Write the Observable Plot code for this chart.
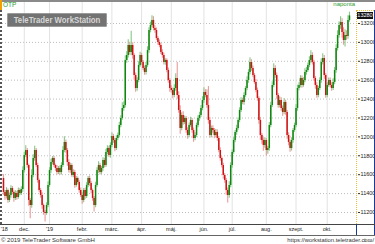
<!DOCTYPE html>
<html><head><meta charset="utf-8">
<script src="https://cdn.jsdelivr.net/npm/d3@7"></script>
<script src="https://cdn.jsdelivr.net/npm/@observablehq/plot@0.6"></script>
<style>
body{margin:0;background:#fff;}
#wrap{position:relative;width:375px;height:244px;overflow:hidden;font-family:"Liberation Sans",Arial,sans-serif;}
#wrap svg{position:absolute;left:0;top:0;}
.abs{position:absolute;white-space:nowrap;}
</style></head><body><div id="wrap"></div>
<script>
const symbol = "OTP";
const period = "naponta";
const copyright = "© 2019 TeleTrader Software GmbH";
const url = "https://workstation.teletrader.com/";
const watermark = "TeleTrader WorkStation";
const firstOpen = 11560;
const closes = [11412,11369,11433,11327,11380,11454,11412,11348,11401,11359,
 11433,11401,11443,11644,11803,11856,11697,11327,11274,11592,
 11771,11856,11697,11539,11433,11380,11274,11200,11190,11274,
 11486,11644,11729,11771,11697,11666,11623,11666,11623,11697,
 11856,11941,11856,11729,11644,11697,11592,11623,11486,11560,
 11517,11433,11380,11327,11433,11369,11486,11560,11507,11433,
 11348,11274,11486,11644,11697,11623,11666,11750,11697,11835,
 11877,11803,11909,12004,11962,11877,11983,12015,12121,12195,
 12301,12332,12808,12861,12967,12893,12967,12861,12650,12512,
 12597,12756,12861,12787,12724,12681,12756,12914,13126,13179,
 13232,13147,13126,13041,12999,12967,12893,12861,12787,12808,
 12703,12597,12512,12491,12438,12512,12618,12438,12279,12089,
 12226,12152,12195,12068,12015,12121,12174,12068,11983,12015,
 12121,12195,12226,12301,12385,12470,12438,12332,12174,12015,
 12089,12068,12015,12047,11983,11856,11771,11697,11592,11539,
 11433,11380,11486,11697,11835,11962,12047,12089,12174,12279,
 12385,12364,12438,12512,12597,12681,12787,12724,12650,12576,
 12491,12406,12174,12015,11962,11909,11962,11856,11877,12121,
 12332,12544,12724,12650,12438,12332,12385,12301,12258,12364,
 12258,12015,11941,11877,11962,12068,12121,12301,12512,12544,
 12618,12544,12597,12681,12703,12756,12808,12861,12787,12618,
 12544,12438,12512,12597,12787,12830,12650,12438,12544,12597,
 12544,12512,12576,12703,12935,13073,13179,13211,13105,13020,
 13073,13062,13232,13280];
const wickUp = [40,20,30,15,25,30,20,15,30,20,
 25,20,30,40,35,50,20,15,20,60,
 40,45,20,25,15,20,30,15,20,30,
 40,30,35,20,25,15,30,20,25,30,
 40,60,25,20,30,25,20,30,25,20,
 15,20,25,30,20,25,30,20,25,20,
 15,20,35,30,40,25,20,30,25,35,
 30,25,30,40,25,20,30,25,35,30,
 60,40,50,40,60,35,150,30,20,25,
 30,40,35,25,20,25,30,40,30,35,
 50,40,30,25,20,25,20,30,25,20,
 20,25,20,30,25,40,50,170,40,50,
 30,40,25,20,30,25,35,20,25,30,
 25,30,35,30,40,50,30,60,200,30,
 25,30,20,30,25,20,30,20,25,20,
 20,25,40,30,25,30,20,35,25,30,
 30,25,30,20,40,30,50,30,25,20,
 30,25,20,30,20,25,30,20,25,30,
 35,40,50,30,25,20,40,30,25,40,
 25,20,30,25,30,20,25,40,35,30,
 30,25,30,40,30,25,40,50,30,25,
 20,30,25,30,40,50,30,20,30,25,
 25,30,40,30,40,50,40,60,40,50,
 60,50,50,40];
const wickDown = [30,40,25,30,20,30,25,40,20,30,
 20,25,20,30,25,20,30,60,140,30,
 25,30,20,30,25,30,40,30,90,20,
 25,20,30,25,20,30,25,20,30,25,
 20,25,30,40,25,30,20,25,30,20,
 25,30,20,40,25,30,20,25,30,35,
 30,70,25,20,30,25,20,30,25,20,
 25,20,30,25,30,35,20,25,20,25,
 20,30,25,30,25,30,35,40,50,40,
 30,25,20,30,25,30,25,20,30,25,
 20,25,30,20,30,25,20,30,25,30,
 25,30,40,30,35,25,30,40,30,60,
 25,30,20,30,40,25,20,30,40,25,
 20,25,30,20,25,30,25,30,40,30,
 25,30,35,20,30,25,30,25,40,30,
 50,80,30,25,30,20,25,30,20,25,
 20,25,30,20,25,30,25,30,25,20,
 25,30,40,50,40,60,30,60,40,30,
 25,20,25,30,40,30,25,30,40,25,
 30,40,35,40,25,30,20,25,30,25,
 25,30,20,25,30,20,25,30,25,30,
 40,30,25,20,30,25,40,30,25,20,
 25,30,20,25,30,25,30,40,60,50,
 70,40,30,20];
const monthTicks = [0.5,14,31,53,73,93,113,135,154,177,197,218];
const monthLabels = ["'18","dec.","'19","febr.","márc.","ápr.","máj.","jún.","júl.","aug.","szept.","okt."];
const yTicks = [11200,11400,11600,11800,12000,12200,12400,12600,12800,13000,13200];

const data = closes.map((c,i)=>{
  const o = i===0 ? firstOpen : closes[i-1];
  return {i, open:o, close:c, high:Math.max(o,c)+wickUp[i], low:Math.min(o,c)-wickDown[i], up:c>=o};
});
const labelMap = new Map(monthTicks.map((t,k)=>[t,monthLabels[k]]));
const upBody="#0d870d", downBody="#d01212", upWick="#86c886", downWick="#eb9a9a";

const chart = Plot.plot({
  width:375, height:244,
  marginTop:2, marginBottom:20, marginLeft:2, marginRight:18,
  x:{domain:[-0.67,238.4], axis:null},
  y:{domain:[11073,13422], axis:null},
  style:{background:"transparent", fontFamily:"'Liberation Sans',Arial,sans-serif", color:"#222"},
  marks:[
    Plot.gridY(yTicks,{stroke:"#bdbdbd", strokeOpacity:1, strokeDasharray:"1,2"}),
    Plot.gridX(monthTicks.slice(1),{stroke:"#e2e2e2", strokeOpacity:1}),
    Plot.ruleX(data,{x:"i", y1:"low", y2:"high", stroke:d=>d.up?upWick:downWick, strokeWidth:1.1}),
    Plot.ruleX(data,{x:"i", y1:"open", y2:"close", stroke:d=>d.up?upBody:downBody, strokeWidth:1.5}),
    Plot.axisX(monthTicks,{anchor:"bottom", tickSize:0, tickPadding:3, fontSize:5.5, fill:"#222",
      tickFormat:d=>labelMap.get(d), fontWeight:d=>String(labelMap.get(d)).startsWith("'")?"bold":"normal"}),
    Plot.axisY(yTicks,{anchor:"right", tickSize:2, tickPadding:1, fontSize:5.5, fill:"#222", stroke:"#333", tickFormat:d=>String(d)})
  ]
});
const wrap = document.getElementById("wrap");
wrap.appendChild(chart);

function add(style, text){
  const d = document.createElement("div");
  d.className="abs"; d.style.cssText=style; if(text!==undefined) d.textContent=text;
  wrap.appendChild(d); return d;
}
// frame decorations
add("left:0;top:0;width:375px;height:2px;background:#8a8a8a;");
add("left:0;top:0;width:2px;height:10px;background:#f0a000;");
add("left:0;top:10px;width:0;height:214px;border-left:2px dotted #555;");
add("left:356px;top:10px;width:0;height:214px;border-left:1px dotted #e8c040;");
add("left:356px;top:10px;width:18px;height:0;border-top:1px dotted #e8c040;");
add("left:374px;top:10px;width:1px;height:225px;background:#1a3a9a;");
add("left:0;top:224px;width:375px;height:1px;background:#444;");
add("left:0;top:235px;width:375px;height:1px;background:#666;");
add("left:356px;top:224px;width:1px;height:11px;background:#1a3a9a;");
// texts
add("left:3px;top:1px;font-size:6.5px;color:#2a9a2a;line-height:8px;", symbol);
add("right:20px;top:0px;font-size:6px;color:#2a9a2a;line-height:8px;", period);
const wm = add("left:7px;top:13px;width:100px;height:14px;background:#737373;border:1px solid #9a9a9a;box-sizing:border-box;border-radius:1px;overflow:hidden;");
const wms = document.createElement("span");
wms.textContent = watermark;
wms.style.cssText = "position:absolute;left:50%;top:0;transform:translateX(-50%) scaleX(0.82);transform-origin:center;color:#d6d6d6;font-weight:bold;font-size:9.5px;line-height:12px;white-space:nowrap;";
wm.appendChild(wms);
add("left:1px;top:237px;font-size:6px;color:#333;line-height:6.5px;", copyright);
add("right:1px;top:237px;font-size:5.8px;color:#333;line-height:6.5px;", url);
// last price label
const last = data[data.length-1];
const yl = chart.scale("y").apply(last.close);
add(`left:357px;top:${yl-3.5}px;width:16px;height:7px;background:#111;color:#fff;font-size:5.5px;line-height:7px;text-align:center;`, String(last.close));
</script></body></html>
